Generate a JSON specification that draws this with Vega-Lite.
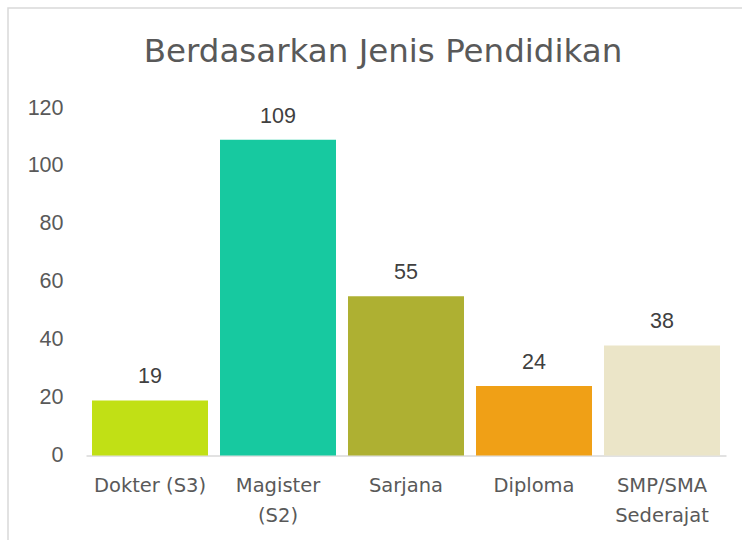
{
  "$schema": "https://vega.github.io/schema/vega-lite/v6.json",
  "width": 760,
  "height": 560,
  "autosize": "none",
  "padding": {"left": 8, "top": 8, "right": 0, "bottom": 0},
  "background": "white",
  "config": {
    "view": {"stroke": "#d9d9d9", "strokeWidth": 1.5},
    "font": "DejaVu Sans"
  },
  "title": {
    "text": "Berdasarkan Jenis Pendidikan",
    "fontSize": 32.5,
    "font": "DejaVu Sans",
    "fontWeight": "normal",
    "color": "#595959",
    "anchor": "middle",
    "baseline": "alphabetic",
    "offset": -57,
    "dy": 29,
    "dx": -5
  },
  "data": {
    "values": [
      {"kategori": "Dokter (S3)", "jumlah": 19},
      {"kategori": "Magister (S2)", "jumlah": 109},
      {"kategori": "Sarjana", "jumlah": 55},
      {"kategori": "Diploma", "jumlah": 24},
      {"kategori": "SMP/SMA Sederajat", "jumlah": 38}
    ]
  },
  "encoding": {
    "x": {
      "field": "kategori",
      "type": "nominal",
      "sort": null,
      "scale": {"range": [78, 718], "paddingInner": 0.09375, "paddingOuter": 0.046875},
      "axis": {
        "title": null,
        "orient": "bottom",
        "offset": -112.5,
        "domainColor": "#d9d9d9",
        "domainWidth": 1.5,
        "ticks": false,
        "labelAngle": 0,
        "labelFont": "DejaVu Sans",
        "labelFontSize": 19.5,
        "labelColor": "#595959",
        "labelPadding": 21,
        "labelLimit": 300,
        "labelLineHeight": 30,
        "labelExpr": "datum.value == 'Magister (S2)' ? ['Magister', '(S2)'] : datum.value == 'SMP/SMA Sederajat' ? ['SMP/SMA', 'Sederajat'] : datum.value"
      }
    },
    "y": {
      "field": "jumlah",
      "type": "quantitative",
      "scale": {"domain": [0, 120], "range": [447.5, 100], "nice": false, "zero": true},
      "axis": {
        "title": null,
        "values": [0, 20, 40, 60, 80, 100, 120],
        "offset": -55,
        "domain": false,
        "ticks": false,
        "grid": false,
        "labelPadding": 0,
        "labelFont": "Liberation Sans",
        "labelFontSize": 21.5,
        "labelColor": "#595959"
      }
    }
  },
  "layer": [
    {
      "mark": {"type": "bar"},
      "encoding": {
        "color": {
          "field": "kategori",
          "type": "nominal",
          "sort": null,
          "scale": {"range": ["#c1e015", "#17c9a0", "#aeb032", "#f0a016", "#ebe5c8"]},
          "legend": null
        }
      }
    },
    {
      "mark": {"type": "text", "baseline": "alphabetic", "dy": -17, "fontSize": 21.5, "font": "Liberation Sans", "color": "#404040"},
      "encoding": {"text": {"field": "jumlah", "type": "quantitative"}}
    }
  ]
}
